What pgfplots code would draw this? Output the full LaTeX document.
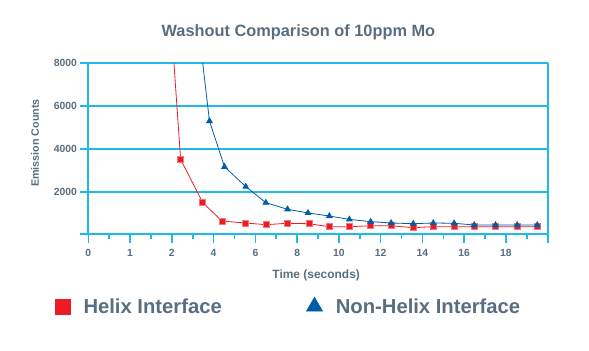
\documentclass[border=0pt]{standalone}
\usepackage{pgfplots}
\pgfplotsset{compat=1.18}
\usepackage{fontspec}
\setmainfont{Liberation Sans}
\definecolor{gridc}{RGB}{32,186,230}
\definecolor{txt}{RGB}{88,110,128}
\definecolor{hred}{RGB}{237,28,36}
\definecolor{nblue}{RGB}{0,94,168}
\begin{document}
\begin{tikzpicture}
\useasboundingbox (0,0) rectangle (589bp,351bp);
\begin{axis}[
  at={(80bp,116.7bp)}, anchor=south west,
  scale only axis, width=467.7bp, height=171bp,
  xmin=-0.2, xmax=11, ymin=0, ymax=8000,
  axis line style={draw=none},
  xtick={0,...,10},
  xticklabels={0,1,2,4,6,8,10,12,14,16,18},
  minor xtick={0.5,1.5,...,10.5},
  extra x ticks={0,11}, extra x tick labels={},
  extra x tick style={grid=major},
  ytick={0,2000,4000,6000,8000},
  yticklabels={,2000,4000,6000,8000},
  scaled y ticks=false,
  ymajorgrids,
  grid style={gridc, line width=2bp},
  major grid style={gridc, line width=2bp},
  xtick pos=left,
  tick align=outside,
  major tick length=9bp, minor tick length=5bp,
  xtick style={gridc, line width=1.6bp},
  minor tick style={gridc, line width=1.6bp},
  ytick style={draw=none},
  /pgf/number format/assume math mode=true,
  ticklabel style={font=\fontsize{10.4}{12}\selectfont\bfseries, text=txt},
  xticklabel style={inner sep=0pt, yshift=-5.5bp},
  yticklabel style={inner sep=0pt, xshift=6bp},
  clip mode=individual,
  legend columns=2,
  legend style={at={(axis description cs:-0.0532,-0.422)}, anchor=west,
    draw=none, fill=none, inner sep=0pt,
    nodes={inner sep=5.9bp, text=txt},
    font=\fontsize{20.3}{24}\selectfont\bfseries,
    /tikz/every odd column/.append style={column sep=7.3bp},
    /tikz/every even column/.append style={column sep=78.7bp}},
  legend cell align=left,
]
\addplot[hred, line width=0.8bp, mark=square*, mark size=3bp,
  mark options={fill=hred, draw=hred!60!white, line width=0.6bp}, forget plot]
coordinates {
(1.75,16400) (2.21,3500) (2.74,1480) (3.20,620) (3.76,530) (4.25,450)
(4.76,515) (5.28,495) (5.77,355) (6.25,355) (6.76,400) (7.25,400)
(7.78,310) (8.26,355) (8.76,355) (9.24,355) (9.75,355) (10.27,355) (10.75,355)
};
\addplot[nblue, line width=0.8bp, mark=triangle*, mark size=3.2bp,
  mark options={fill=nblue}, forget plot]
coordinates {
(2.40,13700) (2.90,5300) (3.26,3160) (3.77,2230) (4.25,1480) (4.77,1170)
(5.26,1000) (5.77,855) (6.25,700) (6.76,590) (7.25,530) (7.78,495)
(8.26,530) (8.76,515) (9.24,435) (9.75,435) (10.27,435) (10.75,435)
};
\addlegendimage{only marks, mark=square*, mark size=7.5bp, hred, mark options={fill=hred}}
\addlegendentry{Helix Interface}
\addlegendimage{only marks, mark=triangle*, mark size=9.4bp, nblue, mark options={fill=nblue}}
\addlegendentry{Non-Helix Interface}
\node[anchor=base, text=txt, font=\fontsize{16.4}{19}\selectfont\bfseries]
  at (axis description cs:0.467,1.156) {Washout Comparison of 10ppm Mo};
\node[anchor=base, text=txt, font=\fontsize{12}{14}\selectfont\bfseries]
  at (axis description cs:0.505,-0.257) {Time (seconds)};
\node[anchor=base, rotate=90, text=txt, font=\fontsize{10.8}{13}\selectfont\bfseries]
  at (axis description cs:-0.0877,0.534) {Emission Counts};
\end{axis}
\end{tikzpicture}
\end{document}
